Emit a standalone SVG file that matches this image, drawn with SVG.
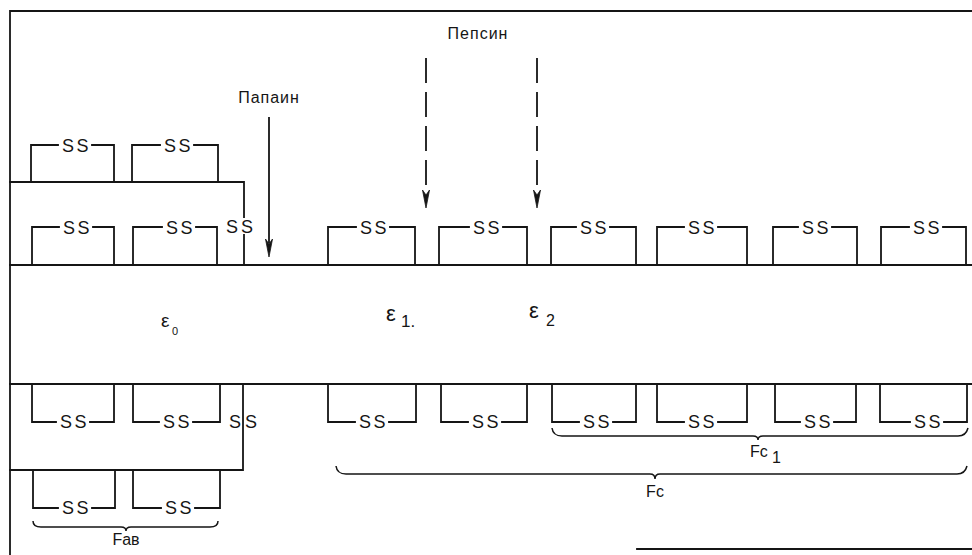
<svg xmlns="http://www.w3.org/2000/svg" width="972" height="555" viewBox="0 0 972 555">
<style>
.ln{fill:none;stroke:#151515;stroke-width:1.8;stroke-linecap:square}
.br{fill:none;stroke:#151515;stroke-width:1.5}
.ss{font-family:"Liberation Sans",Arial,sans-serif;font-size:18px;letter-spacing:2.5px;fill:#151515}
.lb{font-family:"Liberation Sans",Arial,sans-serif;font-size:16px;fill:#151515}
.ep{font-family:"Liberation Sans",Arial,sans-serif;fill:#151515}
.dash{fill:none;stroke:#151515;stroke-width:1.8;stroke-dasharray:25 9}
.ah{fill:#151515;stroke:#151515;stroke-width:0.8}
</style>
<rect width="972" height="555" fill="#fff"/>
<g id="frame">
<path class="ln" d="M10 555V11H972"/>
<path class="ln" d="M637 549H972"/>
</g>
<g id="heavy-chain-upper">
<path class="ln" d="M10 265H972"/>
</g>
<g id="heavy-chain-lower">
<path class="ln" d="M10 384H972"/>
</g>
<g id="light-chain-upper">
<path class="ln" d="M10 182H244V217M244 235V265"/>
<text class="ss" x="226 241" y="233" style="letter-spacing:0">SS</text>
</g>
<g id="light-chain-lower">
<path class="ln" d="M243 384V470H10"/>
<text class="ss" x="229 245" y="428" style="letter-spacing:0">SS</text>
</g>
<g id="ss-light-upper">
<path class="ln" d="M31 182V145H58M92 145H114V182"/><text class="ss" x="62" y="151.5">SS</text>
<path class="ln" d="M132 182V145H160M194 145H218V182"/><text class="ss" x="164" y="151.5">SS</text>
</g>
<g id="ss-heavy-upper">
<path class="ln" d="M32 265V227H59M93 227H114V265"/><text class="ss" x="63" y="233.5">SS</text>
<path class="ln" d="M133 265V227H162M196 227H217V265"/><text class="ss" x="166" y="233.5">SS</text>
<path class="ln" d="M328 265V227H356M390 227H415V265"/><text class="ss" x="360" y="233.5">SS</text>
<path class="ln" d="M439 265V227H469M503 227H527V265"/><text class="ss" x="473" y="233.5">SS</text>
<path class="ln" d="M551 265V227H576M610 227H636V265"/><text class="ss" x="580" y="233.5">SS</text>
<path class="ln" d="M657 265V227H684M718 227H747V265"/><text class="ss" x="688" y="233.5">SS</text>
<path class="ln" d="M773 265V227H798M832 227H857V265"/><text class="ss" x="802" y="233.5">SS</text>
<path class="ln" d="M881 265V227H909M943 227H966V265"/><text class="ss" x="913" y="233.5">SS</text>
</g>
<g id="ss-heavy-lower">
<path class="ln" d="M32 384V422H56M90 422H114V384"/><text class="ss" x="60" y="428">SS</text>
<path class="ln" d="M133 384V422H159M193 422H220V384"/><text class="ss" x="163" y="428">SS</text>
<path class="ln" d="M328 384V422H355M389 422H416V384"/><text class="ss" x="359" y="428">SS</text>
<path class="ln" d="M441 384V422H468M502 422H527V384"/><text class="ss" x="472" y="428">SS</text>
<path class="ln" d="M552 384V422H579M613 422H636V384"/><text class="ss" x="583" y="428">SS</text>
<path class="ln" d="M657 384V422H684M718 422H747V384"/><text class="ss" x="688" y="428">SS</text>
<path class="ln" d="M775 384V422H800M834 422H856V384"/><text class="ss" x="804" y="428">SS</text>
<path class="ln" d="M880 384V422H910M944 422H967V384"/><text class="ss" x="914" y="428">SS</text>
</g>
<g id="ss-light-lower">
<path class="ln" d="M33 470V508H58M92 508H115V470"/><text class="ss" x="62" y="514">SS</text>
<path class="ln" d="M133 470V508H161M195 508H220V470"/><text class="ss" x="165" y="514">SS</text>
</g>
<g id="domain-labels">
<text class="ep" x="161" y="327" font-size="19">ε</text><text class="ep" x="172" y="335" font-size="11">0</text>
<text class="ep" x="386" y="321" font-size="22">ε</text><text class="ep" x="401" y="327" font-size="17">1.</text>
<text class="ep" x="529" y="318" font-size="22">ε</text><text class="ep" x="546" y="326" font-size="16">2</text>
</g>
<g id="fab-brace">
<path class="br" d="M33 521Q33 527 41 527H121Q126 527 126 531Q126 527 131 527H210Q218 527 218 521"/>
<text class="lb" x="126" y="545" text-anchor="middle" font-size="15">Fав</text>
</g>
<g id="fc1-brace">
<path class="br" d="M552 428Q553 436 562 436H753Q758 436 758 440Q758 436 763 436H958Q966 436 968 428"/>
<text class="lb" x="750" y="457" font-size="15">Fc</text><text class="lb" x="772" y="463" font-size="12">1</text>
</g>
<g id="fc-brace">
<path class="br" d="M336 466Q337 474 346 474H650Q655 474 655 479Q655 474 660 474H957Q965 474 967 466"/>
<text class="lb" x="655" y="497" text-anchor="middle" font-size="15">Fc</text>
</g>
<g id="connectors">
<path class="ln" d="M269 118V242"/>
<polygon class="ah" points="265.5,239 269,257 272.5,239 269,244"/>
<path class="dash" d="M426 58V194"/>
<polygon class="ah" points="422.5,190 426,208 429.5,190 426,195"/>
<path class="dash" d="M537 58V194"/>
<polygon class="ah" points="533.5,190 537,208 540.5,190 537,195"/>
</g>
<g id="enzyme-labels">
<text class="lb" x="269" y="103" text-anchor="middle" letter-spacing="1">Папаин</text>
<text class="lb" x="478" y="39" text-anchor="middle" letter-spacing="1">Пепсин</text>
</g>
</svg>
